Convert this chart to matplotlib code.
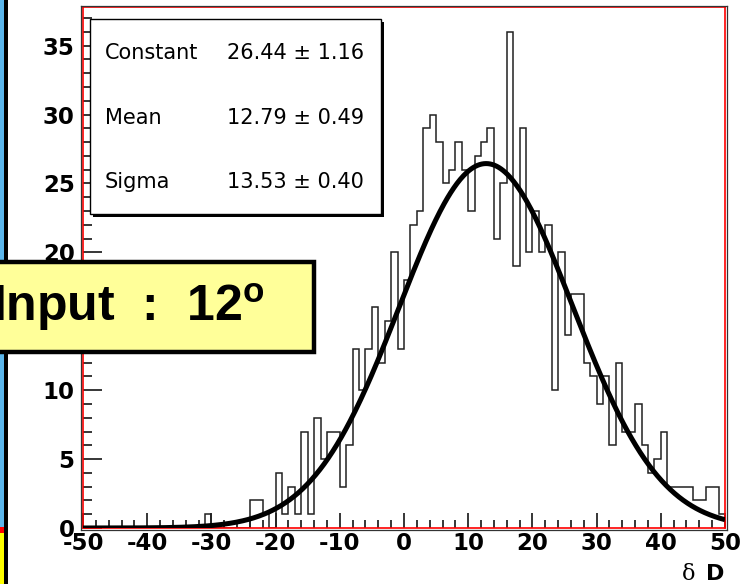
import numpy as np
import matplotlib
matplotlib.use('Agg')
import matplotlib.pyplot as plt
from matplotlib.patches import Rectangle
from matplotlib.lines import Line2D

plt.rcParams['axes.unicode_minus'] = False
plt.rcParams['mathtext.fontset'] = 'custom'
plt.rcParams['mathtext.bf'] = 'Liberation Sans:bold'

W, H = 744, 584

# delta D histogram, 1-unit bins from -50 to 50
bin_edges = np.arange(-50, 51, 1)
counts = [
    0, 0, 0, 0, 0, 0, 0, 0, 0, 0,
    0, 0, 0, 0, 0, 0, 0, 0, 0, 1,
    0, 0, 0, 0, 0, 0, 2, 2, 1, 0,
    4, 1, 3, 1, 7, 1, 8, 5, 7, 7,
    3, 6, 13, 10, 13, 16, 12, 15, 20, 13,
    18, 22, 23, 29, 30, 28, 25, 26, 28, 26,
    23, 27, 28, 29, 21, 25, 36, 19, 29, 20,
    23, 20, 22, 10, 20, 14, 17, 17, 12, 11,
    9, 11, 6, 12, 7, 7, 9, 6, 4, 5,
    7, 3, 3, 3, 3, 2, 2, 3, 3, 1,
]

# gaussian fit results
stat_names = ['Constant', 'Mean', 'Sigma']
stat_values = [26.44, 12.79, 13.53]
stat_errors = [1.16, 0.49, 0.40]

x_ticks = [-50, -40, -30, -20, -10, 0, 10, 20, 30, 40, 50]
y_ticks = [0, 5, 10, 15, 20, 25, 30, 35]
# the 15 label sits under the input box
y_labels = ['0', '5', '10', '', '20', '25', '30', '35']


def px_x(px):
    return px / W


def px_y(py):
    # pixel rows counted from the top edge
    return 1 - py / H


def fig_rect(x0, y0, x1, y1, **kw):
    r = Rectangle((px_x(x0), px_y(y1)), (x1 - x0) / W, (y1 - y0) / H,
                  transform=fig.transFigure, **kw)
    fig.add_artist(r)
    return r


fig = plt.figure(figsize=(W / 100, H / 100), dpi=100)
fig.patch.set_facecolor('white')

# side strips of the slide
fig_rect(0, 0, 3.5, 527, facecolor='#5cb6ec', edgecolor='none', zorder=1)
fig_rect(0, 527, 3.5, 533, facecolor='#ff0000', edgecolor='none', zorder=1)
fig_rect(0, 533, 3.5, H, facecolor='#ffff00', edgecolor='none', zorder=1)
fig_rect(3.5, 0, 7.5, H, facecolor='black', edgecolor='none', zorder=1)

ax = fig.add_axes([px_x(83), px_y(528), 642 / W, 521 / H])
ax.set_xlim(-50, 50)
ax.set_ylim(0, 37.8)

ax.stairs(counts, bin_edges, color='#202020', linewidth=1.1, baseline=0, zorder=2)

c, m, s = stat_values
xs = np.linspace(-50, 50, 600)
ax.plot(xs, c * np.exp(-0.5 * ((xs - m) / s) ** 2), color='black',
        linewidth=3.6, solid_capstyle='butt', zorder=3)

ax.set_xticks(x_ticks)
ax.set_xticklabels([str(t) for t in x_ticks])
ax.set_xticks(np.arange(-50, 51, 2), minor=True)
ax.set_yticks(y_ticks)
ax.set_yticklabels(y_labels)
ax.set_yticks(np.arange(0, 38, 1), minor=True)

ax.tick_params(axis='x', which='major', direction='in', length=11, width=1.1, pad=3)
ax.tick_params(axis='x', which='minor', direction='in', length=5.5, width=1.1)
ax.tick_params(axis='y', which='major', direction='in', length=13.5, width=1.1, pad=6)
ax.tick_params(axis='y', which='minor', direction='in', length=6.5, width=1.1)
for lab in ax.get_xticklabels() + ax.get_yticklabels():
    lab.set_fontfamily('DejaVu Sans')
    lab.set_fontweight('bold')
    lab.set_fontsize(16.5)

for sp in ax.spines.values():
    sp.set_color('#ff0000')
    sp.set_linewidth(1.2)

# dark outer edge of the frame
for (xa, ya, xb, yb) in [(81, 6, 81, 529.5), (81, 529.8, 726.8, 529.8),
                         (81, 6, 726.8, 6), (726.8, 6, 726.8, 529.8)]:
    fig.add_artist(Line2D([px_x(xa), px_x(xb)], [px_y(ya), px_y(yb)],
                          transform=fig.transFigure, color='#333333', linewidth=0.9))

# fit statistics box
fig_rect(93, 22, 384, 217, facecolor='black', edgecolor='none', zorder=5)
fig_rect(90, 19, 381, 214, facecolor='white', edgecolor='black', linewidth=1.0, zorder=6)
for i, name in enumerate(stat_names):
    yy = px_y(53 + 64.5 * i)
    fig.text(px_x(105), yy, name, ha='left', va='center', fontsize=15,
             family='DejaVu Sans', zorder=7)
    fig.text(px_x(364), yy, f'{stat_values[i]:.2f} \u00b1 {stat_errors[i]:.2f}',
             ha='right', va='center', fontsize=15, family='DejaVu Sans', zorder=7)

# axis title
fig.text(px_x(724), px_y(580), 'D', ha='right', va='baseline', fontsize=16,
         family='DejaVu Sans', fontweight='bold')
fig.text(px_x(695), px_y(580), '\u03b4', ha='right', va='baseline', fontsize=16,
         family='DejaVu Serif')

# input angle label
fig_rect(-10, 262, 314, 352, facecolor='#ffff99', edgecolor='black', linewidth=3.2, zorder=8)
fig.text(px_x(-8), px_y(321), r'Input  :  12$^{\mathbf{o}}$', ha='left', va='baseline',
         fontsize=36, family='Liberation Sans', fontweight='bold', zorder=9)

fig.savefig('out.png', dpi=100)
